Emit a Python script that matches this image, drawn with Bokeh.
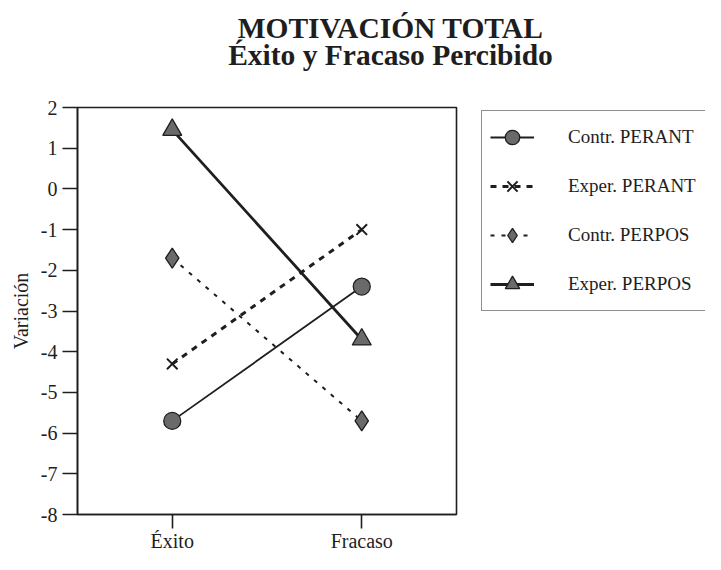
from bokeh.plotting import figure
from bokeh.layouts import column, row
from bokeh.models import FactorRange, Range1d, FixedTicker, Legend, LegendItem, Label
from bokeh.embed import file_html
from bokeh.resources import INLINE

# ---- data ----
categories = ["Éxito", "Fracaso"]
contr_perant = [-5.7, -2.4]
exper_perant = [-4.3, -1.0]
contr_perpos = [-1.7, -5.7]
exper_perpos = [1.45, -3.7]
series_labels = ["Contr. PERANT", "Exper. PERANT", "Contr. PERPOS", "Exper. PERPOS"]
y_ticks = [-8, -7, -6, -5, -4, -3, -2, -1, 0, 1, 2]
y_tick_labels = ["-8", "-7", "-6", "-5", "-4", "-3", "-2", "-1", "0", "1", "2"]
title_lines = ["MOTIVACIÓN TOTAL", "Éxito y Fracaso Percibido"]
y_label = "Variación"

FONT = "Liberation Serif"
INK = "#1e1e1e"
FILL = "#6a6a6a"

W = 705
TH = 98            # height of the title strip
H = 554 - TH       # height of the chart row
PW = 458           # width of the chart figure
FL, FR, FT, FB = 77, 456, 107 - TH, 517 - TH  # frame edges in the chart


def bare(fig):
    fig.outline_line_color = None
    fig.xgrid.visible = False
    fig.ygrid.visible = False
    fig.background_fill_color = "white"
    fig.border_fill_color = "white"


# ---- title strip: two centred lines, centred at x = 390 ----
t = figure(width=W, height=TH, output_backend="svg", toolbar_location=None,
           x_range=Range1d(0, 1), y_range=Range1d(0, 1),
           x_axis_type=None, y_axis_type=None,
           min_border_left=0, min_border_right=0, min_border_top=0, min_border_bottom=0)
bare(t)
t.add_layout(Label(x=390, y=TH - 11, x_units="screen", y_units="screen",
                   text="\n".join(title_lines), text_font=FONT, text_font_size="29.5px",
                   text_font_style="bold", text_color=INK, text_line_height=0.86,
                   text_align="center", text_baseline="top"))

# ---- chart ----
p = figure(width=PW, height=H, output_backend="svg", toolbar_location=None,
           x_range=FactorRange(factors=categories), y_range=Range1d(-8, 2),
           min_border_left=FL, min_border_right=PW - FR, min_border_top=FT,
           min_border_bottom=H - FB)
p.background_fill_color = "white"
p.border_fill_color = "white"
p.outline_line_color = INK
p.outline_line_width = 1.6
p.xgrid.visible = False
p.ygrid.visible = False

p.yaxis.ticker = FixedTicker(ticks=y_ticks)
p.yaxis.major_label_overrides = {t_: l for t_, l in zip(y_ticks, y_tick_labels)}
p.yaxis.minor_tick_line_color = None
for ax in (p.xaxis[0], p.yaxis[0]):
    ax.axis_line_color = INK
    ax.axis_line_width = 1.6
    ax.major_tick_line_color = INK
    ax.major_tick_line_width = 1.6
    ax.major_tick_in = 0
    ax.major_label_text_font = FONT
    ax.major_label_text_font_size = "20px"
    ax.major_label_text_color = INK
p.yaxis.major_tick_out = 15
p.yaxis.major_label_standoff = 5
p.xaxis.major_tick_out = 14
p.xaxis.major_label_standoff = 1
p.yaxis.axis_label = y_label
p.yaxis.axis_label_text_font = FONT
p.yaxis.axis_label_text_font_size = "20px"
p.yaxis.axis_label_text_font_style = "normal"
p.yaxis.axis_label_text_color = INK
p.yaxis.axis_label_standoff = 6

STYLES = [
    dict(line=dict(line_width=1.8), marker=dict(marker="circle", size=17, fill_color=FILL, line_width=1.3)),
    dict(line=dict(line_width=3, line_dash="6 6"), marker=dict(marker="x", size=15, line_width=2)),
    dict(line=dict(line_width=2, line_dash="4 7"), marker=dict(marker="diamond", size=20, fill_color=FILL, line_width=1.3)),
    dict(line=dict(line_width=2.8), marker=dict(marker="triangle", size=19, fill_color=FILL, line_width=1.3)),
]
SERIES = [contr_perant, exper_perant, contr_perpos, exper_perpos]


def draw(fig):
    out = []
    for vals, st in zip(SERIES, STYLES):
        rl = fig.line(categories, vals, line_color=INK, **st["line"])
        rm = fig.scatter(categories, vals, line_color=INK, **st["marker"])
        out.append((rl, rm))
    return out


draw(p)

# ---- legend panel (its own figure; the series lie outside its visible range) ----
lg = figure(width=W - PW, height=H, output_backend="svg", toolbar_location=None,
            x_range=FactorRange(factors=categories), y_range=Range1d(100, 101),
            x_axis_type=None, y_axis_type=None,
            min_border_left=0, min_border_right=0, min_border_top=0, min_border_bottom=0)
bare(lg)
lg_r = draw(lg)

items = [LegendItem(label=lab, renderers=[rl, rm]) for lab, (rl, rm) in zip(series_labels, lg_r)]
legend = Legend(items=items, location=(481 - PW, 203), margin=0, padding=8,
                glyph_width=44, glyph_height=36, label_height=36, label_width=150,
                label_standoff=34, spacing=13,
                label_text_font=FONT, label_text_font_size="19px",
                label_text_color=INK, label_text_baseline="middle",
                border_line_color=INK, border_line_width=1.6,
                background_fill_color="white", background_fill_alpha=1.0)
lg.add_layout(legend)

layout = column(t, row(p, lg, spacing=0), spacing=0)
open("out.html", "w").write(file_html(layout, INLINE))
